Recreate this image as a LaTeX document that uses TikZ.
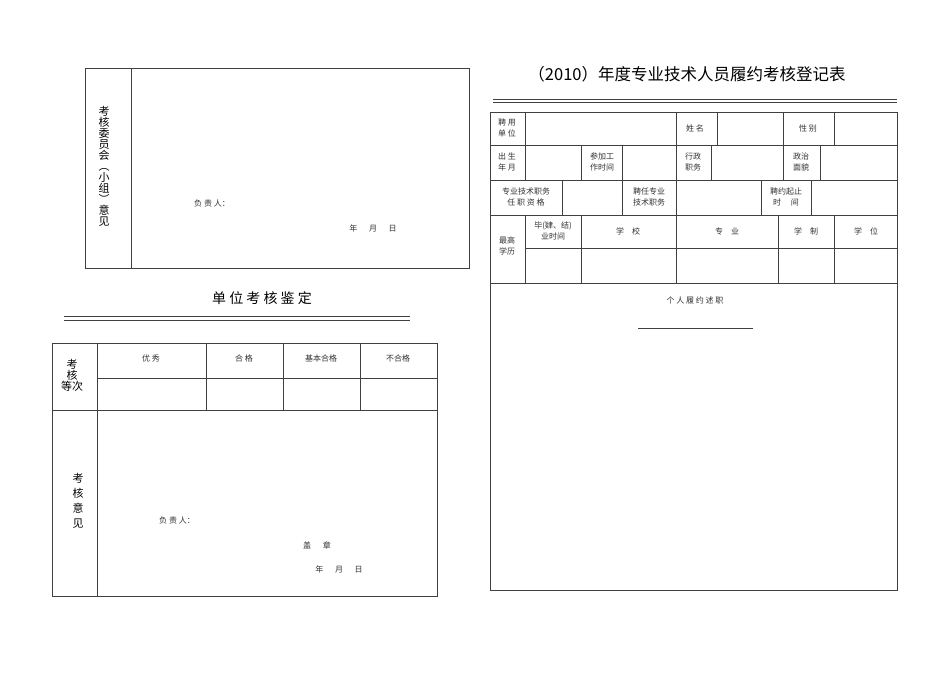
\documentclass[tikz,border=0pt]{standalone}
\usepackage{fontspec}
\setmainfont{Noto Sans CJK SC}
\begin{document}
\begin{tikzpicture}[x=1pt,y=-1pt,line width=0.8pt,draw=black!75,
  sm/.style={font=\fontsize{8}{10.5}\selectfont,align=center,text=black!80,inner sep=0pt},
  md/.style={font=\fontsize{11}{12}\selectfont,align=center,inner sep=0pt},
  lg/.style={font=\fontsize{14}{16}\selectfont,inner sep=0pt}]
\useasboundingbox (0,0) rectangle (950,672);
\fill[white] (0,0) rectangle (950,672);
% top-left box
\draw (85,68) rectangle (469,268);
\draw (131,68) -- (131,268);
\node[md] (v1) at (104,166) {考\\[-1pt]核\\[-1pt]委\\[-1pt]员\\[-1pt]会\\[-1pt]︵\\[-1pt]小\\[-1pt]组\\[-1pt]︶\\[-1pt]意\\[-1pt]见};
\node[sm] (f1) at (212,203) {负 责 人：};
\node[sm] (d1) at (373,228) {年\quad\ \ 月\quad\ \ 日};
% title
\node[lg] (t1) at (262,298) {单 位 考 核 鉴 定};
\draw (64,316) -- (410,316); \draw (64,320) -- (410,320);
% bottom-left table
\draw (52,343) rectangle (437,596);
\draw (97,343) -- (97,596);
\draw (52,410) -- (437,410); \draw (97,378) -- (437,378);
\foreach \x in {206,283,360} \draw (\x,343) -- (\x,410);
\node[sm] (a1) at (151,358) {优 秀};
\node[sm] (a2) at (244,358) {合 格};
\node[sm] (a3) at (321,358) {基本合格};
\node[sm] (a4) at (398,358) {不合格};
\node[md] (a0) at (72,375) {考\\[-1pt]核\\[-1pt]等次};
\node[md] (a5) at (78,501) {考\\[3pt]核\\[3pt]意\\[3pt]见};
\node[sm] (f2) at (177,520) {负 责 人：};
\node[sm] (g2) at (317,545) {盖\quad\ \ 章};
\node[sm] (d2) at (339,569) {年\quad\ \ 月\quad\ \ 日};
% right title
\node[lg,font=\fontsize{16.5}{18}\selectfont] (t2) at (687,74) {（2010）年度专业技术人员履约考核登记表};
\draw (493,99) -- (897,99); \draw (493,102) -- (897,102);
% right table
\draw (490,112) rectangle (897,590);
\foreach \y in {145,180,215,283} \draw (490,\y) -- (897,\y);
\draw (525,248) -- (897,248);
\foreach \x in {525,676,717,783,834} \draw (\x,112) -- (\x,145);
\foreach \x in {525,581,622,676,711,783,820} \draw (\x,145) -- (\x,180);
\foreach \x in {562,622,676,761,811} \draw (\x,180) -- (\x,215);
\foreach \x in {525,581,676,778,834} \draw (\x,215) -- (\x,283);
\node[sm] (r1) at (507,128) {聘\ 用\\单\ 位};
\node[sm] (r2) at (695,128) {姓\ 名};
\node[sm] (r3) at (808,128) {性\ 别};
\node[sm] (r4) at (507,162) {出\ 生\\年\ 月};
\node[sm] (r5) at (602,162) {参加工\\作时间};
\node[sm] (r6) at (693,162) {行政\\职务};
\node[sm] (r7) at (801,162) {政治\\面貌};
\node[sm] (r8) at (526,197) {专业技术职务\\任\ 职\ 资\ 格};
\node[sm] (r9) at (649,197) {聘任专业\\技术职务};
\node[sm] (r10) at (786,197) {聘约起止\\时\quad\ 间};
\node[sm] (r11) at (507,246) {最高\\学历};
\node[sm] (r12) at (553,231) {毕(肄、结)\\业时间};
\node[sm] (r13) at (628,231) {学\quad 校};
\node[sm] (r14) at (727,231) {专\quad 业};
\node[sm] (r15) at (806,231) {学\quad 制};
\node[sm] (r16) at (866,231) {学\quad 位};
\node[sm] (r17) at (695,300) {个\ 人\ 履\ 约\ 述\ 职};
\draw (638,328) -- (753,328);
\end{tikzpicture}
\end{document}
